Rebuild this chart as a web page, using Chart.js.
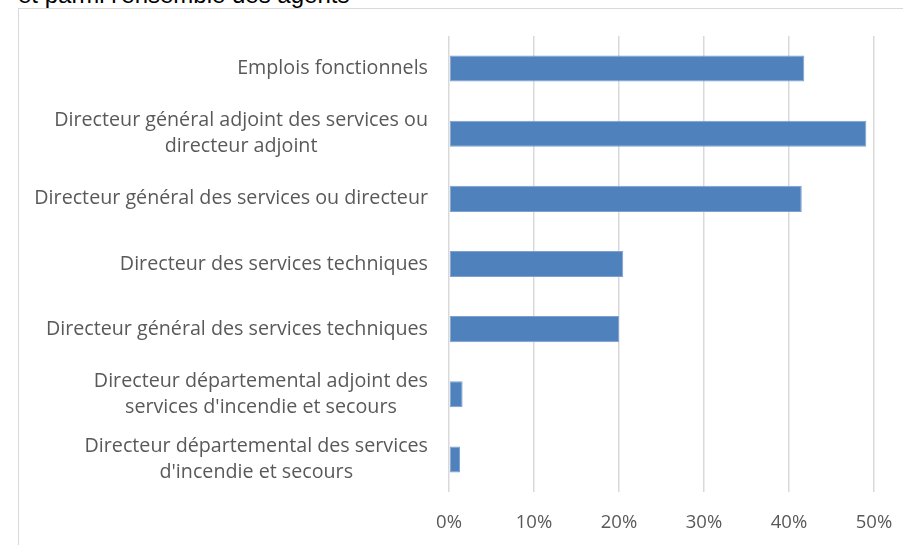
<!DOCTYPE html>
<html>
<head>
<meta charset="utf-8">
<script src="https://cdn.jsdelivr.net/npm/chart.js@4"></script>
<style>
  html, body { margin: 0; padding: 0; background: #fff; overflow: hidden; }
  #wrap { position: relative; width: 903px; height: 545px; }
  #frame { position: absolute; left: 18px; top: 8px; width: 1000px; height: 1000px; border: 1px solid #d9d9d9; box-sizing: border-box; }
  #title { position: absolute; left: 18px; top: -19px; font-family: "Liberation Sans", Arial, sans-serif; font-size: 24px; color: #000; white-space: nowrap; }
  canvas { position: absolute; left: 0; top: 0; }
</style>
</head>
<body>
<div id="wrap">
  <div id="frame"></div>
  <div id="title">et parmi l'ensemble des agents</div>
  <canvas id="c" width="903" height="545"></canvas>
</div>
<script>
const categories = [
  ["Emplois fonctionnels"],
  ["Directeur général adjoint des services ou", "directeur adjoint"],
  ["Directeur général des services ou directeur"],
  ["Directeur des services techniques"],
  ["Directeur général des services techniques"],
  ["Directeur départemental adjoint des", "services d'incendie et secours"],
  ["Directeur départemental des services", "d'incendie et secours"]
];
const values = [41.8, 49.1, 41.5, 20.5, 20.0, 1.6, 1.3];
const tickValues = [0, 10, 20, 30, 40, 50];

const FONT = '"Open Sans", sans-serif';
const TEXT_COLOR = '#595959';
const LABEL_SIZE = 19.7;
const TICK_SIZE = 18.5;

const labelPlugin = {
  id: 'blockLabels',
  afterDraw(chart) {
    const ctx = chart.ctx;
    const y = chart.scales.y;
    const rightEdge = 428;
    const lh = 26;
    ctx.save();
    ctx.font = LABEL_SIZE + 'px ' + FONT;
    ctx.fillStyle = TEXT_COLOR;
    ctx.textBaseline = 'middle';
    ctx.textAlign = 'center';
    categories.forEach((lines, i) => {
      const cy = y.getPixelForValue(i);
      const w = Math.max(...lines.map(l => ctx.measureText(l).width));
      const cx = rightEdge - w / 2;
      const startY = cy - (lines.length - 1) * lh / 2;
      lines.forEach((l, k) => ctx.fillText(l, cx, startY + k * lh));
    });
    ctx.restore();
  }
};

new Chart(document.getElementById('c'), {
  type: 'bar',
  data: {
    labels: categories,
    datasets: [{
      data: values,
      backgroundColor: '#4f81bd',
      borderColor: '#7ea1d0',
      borderWidth: 1,
      borderSkipped: false,
      categoryPercentage: 1.0,
      barPercentage: 0.4
    }]
  },
  options: {
    indexAxis: 'y',
    responsive: false,
    animation: false,
    devicePixelRatio: 1,
    layout: { padding: { top: 36, right: 29, left: 0, bottom: 0 } },
    plugins: { legend: { display: false }, tooltip: { enabled: false }, title: { display: false } },
    scales: {
      x: {
        min: 0, max: 50,
        afterBuildTicks(scale) { scale.ticks = tickValues.map(v => ({ value: v })); },
        afterFit(scale) { scale.height = 53; scale.paddingLeft = 0; scale.paddingRight = 0; },
        grid: { color: '#d9d9d9', lineWidth: 1.5, drawTicks: false },
        border: { display: false },
        ticks: {
          padding: 20,
          color: TEXT_COLOR,
          font: { family: FONT, size: TICK_SIZE },
          callback: v => v + '%'
        }
      },
      y: {
        afterFit(scale) { scale.width = 449; },
        grid: { display: false },
        border: { display: false },
        ticks: { display: false }
      }
    }
  },
  plugins: [labelPlugin]
});
</script>
</body>
</html>
